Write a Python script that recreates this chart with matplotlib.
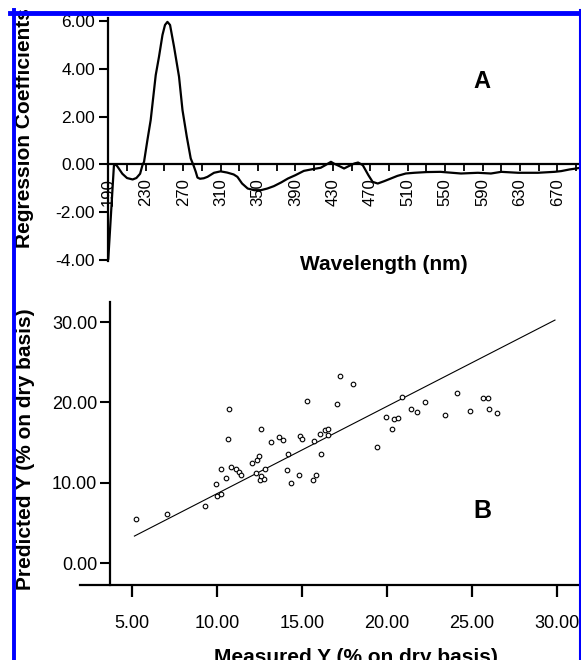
import matplotlib.pyplot as plt
from matplotlib.lines import Line2D

plt.rcParams['font.family'] = ['Liberation Sans', 'DejaVu Sans']

# Panel A: regression coefficients over the spectrum
wavelength = [190, 193, 196, 198, 200, 205, 210, 216, 220, 224, 226.5, 228.2,
              231.8, 235.3, 238.9, 240.7, 244.2, 247.9, 250.6, 253.2, 256.0,
              260.3, 265.6, 269.3, 273.9, 278.1, 281.0, 283.5, 285.3, 288, 292,
              296, 303, 310, 317, 324, 328, 333, 339, 346, 353, 360, 367, 375,
              382, 390, 399, 408, 417, 422, 428, 431, 437, 442, 447, 453, 457,
              462, 468, 472.5, 478, 485, 492, 499, 508, 517, 530, 545, 567, 585,
              599, 610, 628, 649, 667, 674, 683, 690, 700]
coefficients = [-3.95, -2.0, -0.05, 0.0, -0.1, -0.39, -0.57, -0.63, -0.57, -0.39,
                -0.03, 0.11, 1.02, 1.86, 3.12, 3.75, 4.52, 5.43, 5.85, 5.98, 5.85,
                4.93, 3.68, 2.28, 1.16, 0.25, -0.03, -0.31, -0.55, -0.6, -0.58,
                -0.52, -0.35, -0.29, -0.34, -0.42, -0.52, -0.80, -1.01, -1.08,
                -1.08, -1.01, -0.91, -0.75, -0.59, -0.45, -0.27, -0.2, -0.14,
                -0.03, 0.11, 0.04, -0.07, -0.17, -0.07, 0.04, 0.08, -0.03, -0.45,
                -0.73, -0.8, -0.7, -0.59, -0.48, -0.38, -0.35, -0.32, -0.31, -0.38,
                -0.35, -0.38, -0.31, -0.35, -0.35, -0.31, -0.28, -0.21, -0.17, -0.1]
wl_ticks = [190, 210, 230, 250, 270, 290, 310, 330, 350, 370, 390, 410, 430,
            450, 470, 490, 510, 530, 550, 570, 590, 610, 630, 650, 670, 690]
wl_labels = ['190', '', '230', '', '270', '', '310', '', '350', '', '390', '',
             '430', '', '470', '', '510', '', '550', '', '590', '', '630', '',
             '670', '']
coef_ticks = [-4, -2, 0, 2, 4, 6]
coef_labels = ['-4.00', '-2.00', '0.00', '2.00', '4.00', '6.00']

# Panel B: predicted vs measured
measured = [5.22, 7.04, 9.29, 9.98, 10.22, 9.94, 10.53, 10.24, 10.80, 11.10,
            11.31, 11.39, 10.63, 10.70, 12.04, 12.33, 12.45, 12.28, 12.53, 12.75,
            12.59, 12.82, 12.59, 13.18, 13.66, 13.86, 14.10, 14.33, 14.16, 14.82,
            14.88, 14.98, 15.27, 15.67, 15.80, 15.72, 16.10, 16.06, 16.35, 16.51,
            16.51, 17.04, 17.24, 17.98, 19.43, 19.94, 20.31, 20.43, 20.63, 20.90,
            21.41, 21.78, 22.25, 23.43, 24.14, 24.86, 25.63, 25.92, 26.02, 26.49]
predicted = [5.43, 6.05, 7.12, 8.41, 8.57, 9.81, 10.56, 11.76, 12.0, 11.68,
             11.34, 10.93, 15.4, 19.2, 12.46, 12.88, 13.29, 11.27, 10.4, 10.47,
             10.8, 11.76, 16.73, 15.07, 15.7, 15.37, 11.64, 10.02, 13.63, 10.93,
             15.78, 15.4, 20.16, 10.31, 10.93, 15.19, 13.63, 16.02, 16.52, 16.68,
             15.9, 19.84, 23.23, 22.32, 14.45, 18.17, 16.73, 17.93, 18.05, 20.66,
             19.22, 18.8, 20.04, 18.39, 21.16, 18.92, 20.58, 20.58, 19.22, 18.72]
fit_x = [5.14, 29.88]
fit_y = [3.36, 30.25]
meas_ticks = [5, 10, 15, 20, 25, 30]
meas_labels = ['5.00', '10.00', '15.00', '20.00', '25.00', '30.00']
pred_ticks = [0, 10, 20, 30]
pred_labels = ['0.00', '10.00', '20.00', '30.00']

W, H = 581, 660
fig = plt.figure(figsize=(W / 100, H / 100), dpi=100)


def box(x0, y0, x1, y1):
    # pixel box (top-left origin) -> figure fraction rect
    return [x0 / W, 1 - y1 / H, (x1 - x0) / W, (y1 - y0) / H]


# --- panel A ---
ax1 = fig.add_axes(box(108.3, 18.3, 584.5, 261))
ax1.plot(wavelength, coefficients, color='black', lw=1.6)
ax1.set_xlim(190, 699)
ax1.set_ylim(-4.05, 6.13)
ax1.spines['top'].set_visible(False)
ax1.spines['right'].set_visible(False)
ax1.spines['bottom'].set_position(('data', 0))
for s in ax1.spines.values():
    s.set_linewidth(1.6)
ax1.set_xticks(wl_ticks, wl_labels)
ax1.set_yticks(coef_ticks, coef_labels)
ax1.tick_params(axis='x', direction='out', length=5, width=1.3, pad=5,
                labelsize=12, labelrotation=90)
ax1.tick_params(axis='y', direction='out', length=6.5, width=1.5, pad=3,
                labelsize=12.5)

# --- panel B ---
ax2 = fig.add_axes(box(80, 302, 591, 585))
ax2.scatter(measured, predicted, s=11, facecolors='white', edgecolors='black',
            linewidths=0.8, zorder=3)
ax2.plot(fit_x, fit_y, color='black', lw=0.8)
ax2.set_xlim(1.94, 32)
ax2.set_ylim(-2.73, 32.5)
ax2.spines['top'].set_visible(False)
ax2.spines['right'].set_visible(False)
ax2.spines['left'].set_position(('data', 3.71))
for s in ax2.spines.values():
    s.set_linewidth(1.6)
ax2.set_xticks(meas_ticks, meas_labels)
ax2.set_yticks(pred_ticks, pred_labels)
ax2.tick_params(axis='x', direction='out', length=8.6, width=1.6, pad=13,
                labelsize=13)
ax2.tick_params(axis='y', direction='out', length=7.2, width=1.5, pad=2,
                labelsize=13)


def ptext(x, y, s, **kw):
    fig.text(x / W, 1 - y / H, s, fontweight='bold', **kw)


ptext(30, 128, 'Regression Coefficients', fontsize=15, rotation=90,
      rotation_mode='anchor', ha='center', va='baseline')
ptext(384, 270, 'Wavelength (nm)', fontsize=15, ha='center', va='baseline')
ptext(481.7, 88.3, 'A', fontsize=17, ha='center', va='baseline')
ptext(31, 449, 'Predicted Y (% on dry basis)', fontsize=15, rotation=90,
      rotation_mode='anchor', ha='center', va='baseline')
ptext(356, 663, 'Measured Y (% on dry basis)', fontsize=15, ha='center',
      va='baseline')
ptext(482, 518.3, 'B', fontsize=18, ha='center', va='baseline')

# blue frame around the figure
blue = '#0000ff'
fig.add_artist(Line2D([10 / W, 1], [1 - 12.5 / H] * 2, lw=3.5, color=blue,
                      transform=fig.transFigure, zorder=10))
fig.add_artist(Line2D([13.5 / W] * 2, [1 - 10 / H, 0], lw=2.8, color=blue,
                      transform=fig.transFigure, zorder=10))
fig.add_artist(Line2D([579.5 / W] * 2, [1 - 10 / H, 0], lw=1.5, color=blue,
                      transform=fig.transFigure, zorder=10))

fig.savefig('out.png', dpi=100)
